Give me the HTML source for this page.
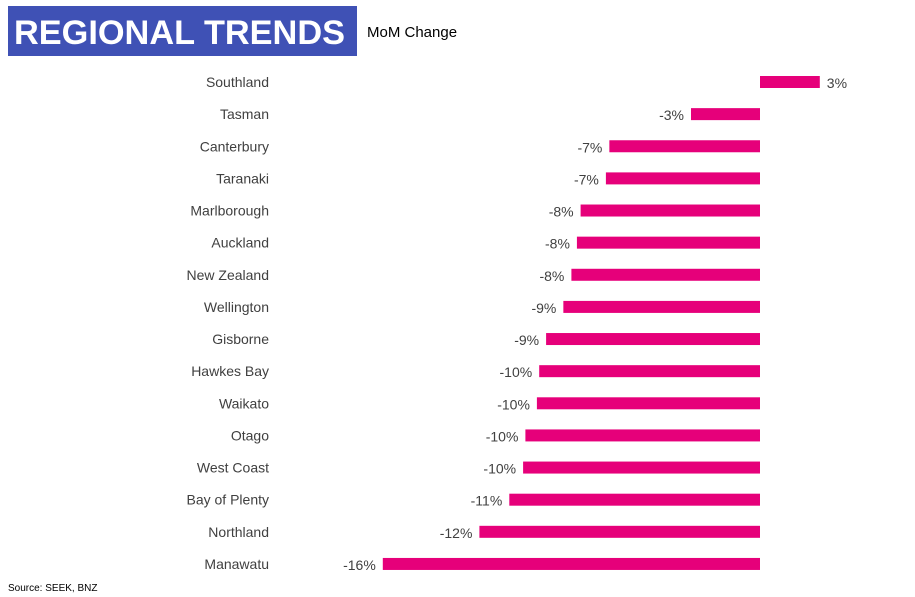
<!DOCTYPE html>
<html><head><meta charset="utf-8"><style>
html,body{margin:0;padding:0;background:#fff;width:915px;height:597px;overflow:hidden;font-family:"Liberation Sans",Arial,sans-serif}
</style></head><body>
<svg id="chart" width="915" height="597" xmlns="http://www.w3.org/2000/svg">
<rect x="8" y="6" width="349" height="50" fill="#3F51B5"/>
<text x="14" y="44" font-size="34" font-weight="bold" fill="#fff" textLength="331" lengthAdjust="spacingAndGlyphs" font-family="Liberation Sans, sans-serif">REGIONAL TRENDS</text>
<text x="367" y="37" font-size="15" fill="#000" font-family="Liberation Sans, sans-serif">MoM Change</text>
<text x="8" y="591" font-size="10" fill="#000" font-family="Liberation Sans, sans-serif">Source: SEEK,  BNZ</text>
<g id="bars"></g>
</svg>
<script>
const categories = ["Southland","Tasman","Canterbury","Taranaki","Marlborough","Auckland","New Zealand","Wellington","Gisborne","Hawkes Bay","Waikato","Otago","West Coast","Bay of Plenty","Northland","Manawatu"];
const values = [2.6,-3.0,-6.55,-6.7,-7.8,-7.96,-8.2,-8.55,-9.3,-9.6,-9.7,-10.2,-10.3,-10.9,-12.2,-16.4];

const NS="http://www.w3.org/2000/svg";
const g=document.getElementById('bars');
const zeroX=760, pxPer=23;
function xScale(v){return zeroX+v*pxPer;}
function yScale(i){return 82+i*32.13;}
categories.forEach((c,i)=>{
  const v=values[i], y=yScale(i);
  const lab=document.createElementNS(NS,'text');
  lab.setAttribute('x',269);lab.setAttribute('y',y+5);
  lab.setAttribute('text-anchor','end');lab.setAttribute('font-size','14');lab.setAttribute('fill','#404040');
  lab.setAttribute('font-family','Liberation Sans, sans-serif');
  lab.textContent=c;
  
  
  g.appendChild(lab);
  const x0=Math.min(xScale(0),xScale(v)), w=Math.abs(xScale(v)-xScale(0));
  const r=document.createElementNS(NS,'rect');
  r.setAttribute('x',x0);r.setAttribute('y',y-6);r.setAttribute('width',w);r.setAttribute('height',12);
  r.setAttribute('fill','#E6007A');
  
  
  g.appendChild(r);
  const t=document.createElementNS(NS,'text');
  const rv=Math.round(v);
  if(v>=0){t.setAttribute('x',xScale(v)+7);t.setAttribute('text-anchor','start');}
  else{t.setAttribute('x',xScale(v)-7);t.setAttribute('text-anchor','end');}
  t.setAttribute('y',y+6);t.setAttribute('font-size','14');t.setAttribute('fill','#404040');
  t.setAttribute('font-family','Liberation Sans, sans-serif');
  t.textContent=rv+'%';
  
  
  g.appendChild(t);
});
</script>
</body></html>
